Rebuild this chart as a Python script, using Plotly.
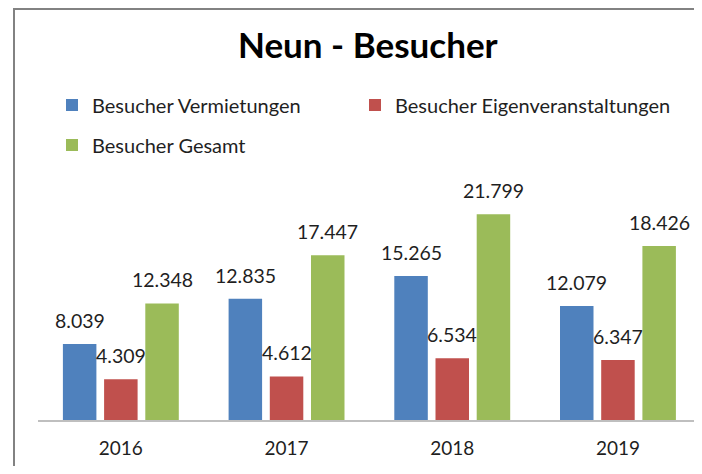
import plotly.graph_objects as go

years = ["2016", "2017", "2018", "2019"]
vermietungen = [8039, 12835, 15265, 12079]
eigen = [4309, 4612, 6534, 6347]
gesamt = [12348, 17447, 21799, 18426]

series_names = ["Besucher Vermietungen", "Besucher Eigenveranstaltungen", "Besucher Gesamt"]
series_values = [vermietungen, eigen, gesamt]
colors = ["#4F81BD", "#C0504D", "#9BBB59"]
legend_ids = ["legend", "legend2", "legend3"]

FONT = "Lato"

def fmt(v):
    return f"{v:,}".replace(",", ".")

fig = go.Figure()
for name, vals, col, lg in zip(series_names, series_values, colors, legend_ids):
    fig.add_trace(go.Bar(
        x=years, y=vals, name=name, marker=dict(color=col, line=dict(width=0)),
        legend=lg, hoverinfo="x+y+name",
    ))

# The page body has an 8px default margin; the figure is sized to fit the window.
OFF = 8
W, H = 702 - 2 * OFF, 474 - 2 * OFF
PL, PR, PT, PB = 38, 694, 184, 420          # plot area in window pixels
L, R = PL - OFF, W - (PR - OFF)
T, B = PT - OFF, H - (PB - OFF)
pw, ph = PR - PL, PB - PT
cat_w = 165.7

def px2paper_x(sx):
    return (sx - PL) / pw

def px2paper_y(sy):
    return (PB - sy) / ph

BARGAP, GROUPGAP = 0.254, 0.187

# data labels (x given as category index on the category axis)
slot = cat_w * (1 - BARGAP) / 3
offsets = [-slot, 0, slot]
annotations = []
for vals, off in zip(series_values, offsets):
    for i, v in enumerate(vals):
        annotations.append(dict(
            x=i, y=v, xref="x", yref="y", text=fmt(v), showarrow=False,
            xshift=off, yshift=10, yanchor="bottom", xanchor="center",
            font=dict(family=FONT, size=19.5, color="#1f1f1f"),
        ))

annotations.append(dict(
    text="<b>Neun - Besucher</b>", xref="paper", yref="paper",
    x=px2paper_x(367.5), y=px2paper_y(44), xanchor="center", yanchor="middle",
    showarrow=False, font=dict(family=FONT, size=35, color="#000000"),
))

legend_style = dict(font=dict(family=FONT, size=20, color="#1f1f1f"),
                    bgcolor="rgba(0,0,0,0)", orientation="h",
                    xanchor="left", yanchor="middle")

fig.update_layout(
    width=W, height=H,
    margin=dict(l=L, r=R, t=T, b=B, pad=0),
    paper_bgcolor="white", plot_bgcolor="white",
    barmode="group", bargap=BARGAP, bargroupgap=GROUPGAP,
    showlegend=True,
    legend=dict(x=px2paper_x(52), y=px2paper_y(105), **legend_style),
    legend2=dict(x=px2paper_x(355), y=px2paper_y(105), **legend_style),
    legend3=dict(x=px2paper_x(52), y=px2paper_y(145), **legend_style),
    xaxis=dict(type="category", range=[-0.5, -0.5 + pw / cat_w], autorange=False,
               showline=True, linecolor="#BFBFBF", linewidth=1.5,
               ticks="", tickfont=dict(family=FONT, size=19, color="#1f1f1f"),
               ticklabelstandoff=10, showgrid=False, zeroline=False),
    yaxis=dict(range=[0, 25000], autorange=False, visible=False, showgrid=False, zeroline=False),
    annotations=annotations,
    shapes=[
        dict(type="line", xref="paper", yref="paper",
             x0=px2paper_x(14), x1=px2paper_x(14),
             y0=px2paper_y(OFF + 1), y1=px2paper_y(480),
             line=dict(color="#828282", width=2)),
        dict(type="line", xref="paper", yref="paper",
             x0=px2paper_x(13), x1=px2paper_x(710),
             y0=px2paper_y(OFF + 1), y1=px2paper_y(OFF + 1),
             line=dict(color="#828282", width=2)),
    ],
)

fig.write_html("out.html")
